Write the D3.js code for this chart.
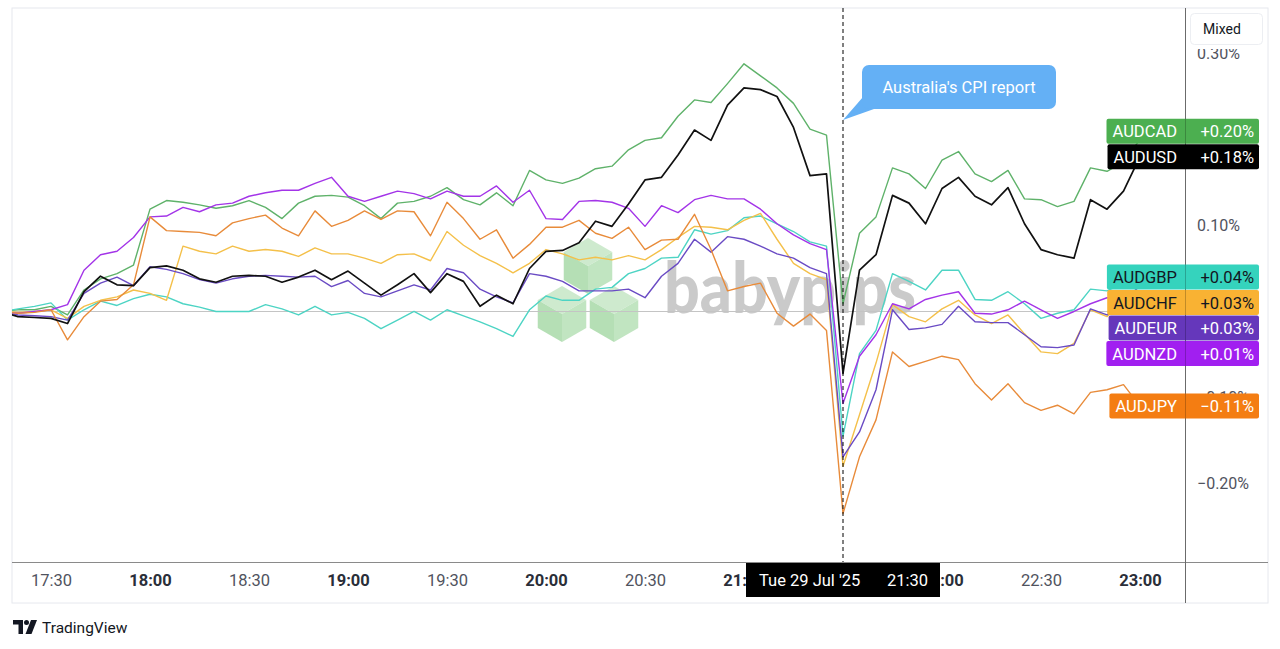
<!DOCTYPE html>
<html><head><meta charset="utf-8">
<script src="https://cdn.jsdelivr.net/npm/d3@7"></script>
<style>
body{margin:0;background:#fff;}
svg{display:block;font-family:Roboto,"Noto Sans",sans-serif;}
</style></head><body>
<svg id="chart" width="1280" height="649"></svg>
<script>
// ---------- DATA ----------
const symbols = ["AUDCAD","AUDUSD","AUDGBP","AUDCHF","AUDEUR","AUDNZD","AUDJPY"];
const startTime = "2025-07-29 17:15";
const stepMinutes = 5;
const eventTime = "2025-07-29 21:30";
const eventNote = "Australia's CPI report";
// tick labels visible (21:30 tick is hidden by the crosshair time label)
const xTickLabels = ["17:30","18:00","18:30","19:00","19:30","20:00","20:30","21:00","22:00","22:30","23:00"];
// 0.20% and 0.00% are hidden by the price labels
const yTickValues = [-0.2,-0.1,0.1,0.3];

const audcad = [0,0.002,0.002,0.006,-0.004,0.025,0.038,0.044,0.054,0.119,
 0.129,0.127,0.124,0.120,0.123,0.129,0.121,0.108,0.126,0.134,
 0.135,0.133,0.123,0.108,0.126,0.128,0.134,0.144,0.130,0.124,
 0.138,0.123,0.164,0.153,0.149,0.155,0.166,0.169,0.188,0.199,
 0.202,0.227,0.246,0.243,0.265,0.288,0.274,0.260,0.242,0.212,
 0.205,0.009,0.091,0.110,0.167,0.160,0.143,0.176,0.186,0.160,
 0.151,0.164,0.131,0.130,0.122,0.128,0.167,0.163,0.174,0.200];
const audusd = [0,-0.006,-0.007,-0.008,-0.014,0.023,0.041,0.031,0.030,0.051,
 0.053,0.048,0.038,0.034,0.041,0.042,0.041,0.034,0.040,0.048,
 0.037,0.047,0.033,0.019,0.031,0.044,0.022,0.044,0.035,0.006,
 0.019,0.009,0.050,0.070,0.071,0.080,0.105,0.099,0.125,0.153,
 0.156,0.182,0.211,0.199,0.240,0.260,0.258,0.250,0.214,0.158,
 0.160,-0.072,0.048,0.066,0.135,0.126,0.102,0.143,0.156,0.134,
 0.124,0.144,0.102,0.072,0.066,0.062,0.130,0.119,0.140,0.180];
const audgbp = [0,0.003,0.006,0.010,-0.010,0.002,0.012,0.007,0.015,0.020,
 0.017,0.009,0.005,0.000,0.000,0.000,0.008,0.003,-0.004,0.006,
 -0.004,-0.001,-0.008,-0.020,-0.010,0.000,-0.010,0.002,-0.005,-0.012,
 -0.020,-0.029,0.002,0.018,0.013,0.013,0.026,0.028,0.044,0.050,
 0.062,0.063,0.095,0.090,0.094,0.109,0.111,0.102,0.093,0.081,
 0.076,-0.145,-0.049,-0.022,0.044,0.035,0.025,0.048,0.048,0.014,
 0.013,0.023,0.009,-0.008,-0.002,0.002,0.026,0.024,0.033,0.040];
const audchf = [0,-0.001,0.000,0.002,-0.008,0.006,0.013,0.017,0.025,0.021,
 0.013,0.076,0.070,0.067,0.076,0.070,0.072,0.070,0.064,0.074,
 0.067,0.067,0.062,0.056,0.066,0.067,0.059,0.093,0.077,0.065,
 0.056,0.045,0.056,0.072,0.067,0.060,0.063,0.060,0.065,0.060,
 0.072,0.086,0.099,0.098,0.095,0.106,0.114,0.084,0.056,0.044,
 0.037,-0.180,-0.120,-0.060,0.008,-0.006,-0.012,0.003,0.013,-0.004,
 -0.014,-0.004,-0.026,-0.047,-0.049,-0.037,0.002,-0.006,0.012,0.030];
const audeur = [0,-0.004,-0.005,-0.006,-0.010,0.021,0.033,0.040,0.030,0.052,
 0.049,0.044,0.037,0.033,0.038,0.041,0.042,0.041,0.040,0.041,
 0.029,0.036,0.021,0.017,0.024,0.031,0.025,0.050,0.045,0.026,
 0.017,0.010,0.044,0.041,0.035,0.024,0.024,0.024,0.026,0.016,
 0.041,0.056,0.084,0.069,0.087,0.084,0.076,0.067,0.062,0.051,
 0.044,-0.169,-0.140,-0.091,0.002,-0.021,-0.019,-0.015,0.006,-0.012,
 -0.013,-0.013,-0.027,-0.041,-0.042,-0.039,0.003,-0.004,0.012,0.030];
const audnzd = [0,-0.002,0.000,0.002,0.008,0.048,0.066,0.070,0.086,0.110,
 0.111,0.121,0.116,0.124,0.126,0.134,0.138,0.141,0.141,0.149,
 0.156,0.134,0.128,0.134,0.140,0.137,0.131,0.140,0.134,0.134,
 0.146,0.127,0.141,0.108,0.107,0.128,0.129,0.127,0.120,0.099,
 0.123,0.115,0.130,0.135,0.131,0.131,0.119,0.102,0.089,0.079,
 0.072,-0.107,-0.052,-0.027,0.009,0.003,0.014,0.019,0.023,-0.002,
 -0.003,0.002,0.012,0.002,-0.008,0.000,0.009,0.016,0.016,0.010];
const audjpy = [0,-0.002,-0.001,0.002,-0.033,-0.006,0.012,0.014,0.031,0.110,
 0.094,0.093,0.092,0.088,0.103,0.108,0.112,0.097,0.088,0.117,
 0.099,0.106,0.117,0.107,0.117,0.116,0.088,0.127,0.108,0.084,
 0.095,0.062,0.078,0.098,0.098,0.106,0.091,0.085,0.098,0.072,
 0.083,0.084,0.113,0.072,0.024,0.029,0.033,-0.002,-0.017,-0.003,
 -0.022,-0.235,-0.169,-0.126,-0.047,-0.064,-0.058,-0.052,-0.056,-0.084,
 -0.103,-0.084,-0.106,-0.115,-0.109,-0.119,-0.094,-0.091,-0.085,-0.110];

const lineColors  = ["#5fb26a","#111111","#4dd4c4","#f4c04a","#6a4bc4","#a334e8","#e88b3a"];
const labelColors = ["#4caf50","#000000","#35d3bd","#f9b233","#6537bb","#a11ff0","#f47d12"];
const labelText   = ["#ffffff","#ffffff","#131722","#131722","#ffffff","#ffffff","#ffffff"];

// ---------- BUILD ----------
const seriesValues = [audcad,audusd,audgbp,audchf,audeur,audnzd,audjpy];
const parse = d3.timeParse("%Y-%m-%d %H:%M");
const t0 = parse(startTime);
const times = audcad.map((_,i)=> d3.timeMinute.offset(t0, i*stepMinutes));
const series = symbols.map((s,k)=>({name:s, values:seriesValues[k], line:lineColors[k], bg:labelColors[k], fg:labelText[k]}));

const svg = d3.select("#chart");
const L = 12, T = 8, R = 1185, B = 562, OUTR = 1268, OUTB = 603;

const x = d3.scaleTime().domain([times[0], times[times.length-1]]).range([1.5, 1140]);
const y = d3.scaleLinear().domain([-0.2913, 0.3529]).range([B, T]);

// frame
svg.append("rect").attr("x",L).attr("y",T).attr("width",OUTR-L).attr("height",OUTB-T)
  .attr("fill","#fff").attr("stroke","#e6e8ee").attr("stroke-width",1);

svg.append("defs").append("clipPath").attr("id","plotclip")
  .append("rect").attr("x",L).attr("y",T).attr("width",R-L).attr("height",B-T);

// watermark
const wm = svg.append("g").attr("opacity",0.8);
function cube(cx,cy,r){
  const c = Math.cos(Math.PI/6)*r;
  const top=[cx,cy-r], ur=[cx+c,cy-r/2], lr=[cx+c,cy+r/2], bot=[cx,cy+r], ll=[cx-c,cy+r/2], ul=[cx-c,cy-r/2], mid=[cx,cy];
  const faces=[[top,ur,mid,ul,"#c3e6c3"],[ul,mid,bot,ll,"#a3d8a3"],[mid,ur,lr,bot,"#b2dfb2"]];
  faces.forEach(f=>wm.append("path").attr("d","M"+f.slice(0,4).map(p=>p.join(",")).join("L")+"Z").attr("fill",f[4]));
}
cube(588,266,28); cube(562,314,28); cube(614,314,28);
wm.append("text").attr("x",664).attr("y",313).attr("textLength",252).attr("lengthAdjust","spacingAndGlyphs")
  .attr("font-size",70).attr("font-weight",900).attr("font-family","Lato, Roboto, sans-serif")
  .attr("fill","#a8a8a8").attr("opacity",0.75).text("babypips");

// baseline
svg.append("line").attr("x1",L).attr("x2",R).attr("y1",y(0)).attr("y2",y(0))
  .attr("stroke","#c4c4c4").attr("stroke-width",1);

// lines
const plot = svg.append("g").attr("clip-path","url(#plotclip)");
const lineGen = d3.line().x((d,i)=>x(times[i])).y(d=>y(d));
const drawOrder = [0,2,3,4,5,6,1];
drawOrder.forEach(k=>{
  const s = series[k];
  plot.append("path").attr("d",lineGen(s.values)).attr("fill","none")
    .attr("stroke",s.line).attr("stroke-width",k===1?1.7:1.4).attr("stroke-linejoin","round");
});

// event dashed line
const ev = parse(eventTime);
svg.append("line").attr("x1",x(ev)).attr("x2",x(ev)).attr("y1",T).attr("y2",B)
  .attr("stroke","#000").attr("stroke-width",1).attr("stroke-dasharray","4,3");

// annotation bubble
const bx = x(ev)+19, by = 65, bw = 194, bh = 44;
const ann = svg.append("g");
ann.append("path").attr("d",`M${bx+1},${by+bh-12} L${x(ev)},${by+bh+11} L${bx+12},${by+bh}Z`).attr("fill","#64b0f5");
ann.append("rect").attr("x",bx).attr("y",by).attr("width",bw).attr("height",bh).attr("rx",7).attr("fill","#64b0f5");
ann.append("text").attr("x",bx+bw/2).attr("y",by+bh/2+6).attr("text-anchor","middle")
  .attr("fill","#fff").attr("font-size",16.5).text(eventNote);

// axes lines
svg.append("line").attr("x1",L).attr("x2",OUTR).attr("y1",B+0.5).attr("y2",B+0.5).attr("stroke","#8a8a8a");
svg.append("line").attr("x1",R+0.5).attr("x2",R+0.5).attr("y1",T).attr("y2",OUTB).attr("stroke","#8a8a8a");

// y axis
const fmtAxis = v => (v<0?"\u2212":"") + Math.abs(v).toFixed(2) + "%";
const yAxis = svg.append("g").attr("transform",`translate(${R},0)`)
  .call(d3.axisRight(y).tickValues(yTickValues).tickFormat(fmtAxis).tickSize(0).tickPadding(12));
yAxis.select(".domain").remove();
yAxis.selectAll("text").attr("font-size",16).attr("fill","#50535e").attr("font-family","Roboto, sans-serif");

// x axis
const xTickTimes = xTickLabels.map(s=>parse("2025-07-29 "+s));
const xAxis = svg.append("g").attr("transform",`translate(0,${B})`)
  .call(d3.axisBottom(x).tickValues(xTickTimes).tickFormat(d3.timeFormat("%H:%M")).tickSize(0).tickPadding(12));
xAxis.select(".domain").remove();
xAxis.selectAll("text").attr("font-size",16.5).attr("font-family","Roboto, sans-serif")
  .attr("fill",d=>d.getMinutes()===0?"#2a2e39":"#50535e")
  .attr("font-weight",d=>d.getMinutes()===0?700:400);

// Mixed button (white pane covering the top of the price scale)
svg.append("rect").attr("x",R+1).attr("y",T+1).attr("width",OUTR-R-2).attr("height",40).attr("fill","#fff");
svg.append("rect").attr("x",1190.5).attr("y",13.5).attr("width",72).attr("height",31).attr("rx",4)
  .attr("fill","#fff").attr("stroke","#eceef2");
svg.append("text").attr("x",1222).attr("y",34).attr("text-anchor","middle").attr("font-size",14)
  .attr("fill","#131722").text("Mixed");

// right labels
const H = 25.5;
const lastVal = s => s.values[s.values.length-1];
const priority = [1,0,2,3,4,5,6];
const placed = [];
priority.forEach(k=>{
  const s = series[k]; const v = lastVal(s);
  let yy = y(v);
  for(let it=0; it<20; it++){
    const hit = placed.find(p=>Math.abs(p.y-yy) < H-0.01);
    if(!hit) break;
    yy = (v > lastVal(hit.s)) ? hit.y - H : hit.y + H;
  }
  placed.push({s, y:yy});
});
const fmtLab = v => (v<0?"\u2212":"+") + Math.abs(v).toFixed(2) + "%";
const lg = svg.append("g").attr("font-family","Roboto, sans-serif").attr("font-size",16.5);
placed.forEach(p=>{
  const g = lg.append("g");
  const r = g.append("rect").attr("y",p.y-12.5).attr("height",25).attr("rx",2).attr("fill",p.s.bg);
  const nt = g.append("text").attr("y",p.y+6).attr("fill",p.s.fg).text(p.s.name);
  const w = nt.node().getComputedTextLength();
  nt.attr("x",R-8-w);
  r.attr("x",R-14-w).attr("width",(1259-(R-14-w)));
  g.append("text").attr("x",1254).attr("y",p.y+6).attr("text-anchor","end").attr("fill",p.s.fg).text(fmtLab(lastVal(p.s)));
});
svg.append("line").attr("x1",R+0.5).attr("x2",R+0.5).attr("y1",T).attr("y2",OUTB).attr("stroke","#000").attr("stroke-opacity",0.22);

// time tooltip
const tt = svg.append("g");
tt.append("rect").attr("x",x(ev)-97).attr("y",B+1).attr("width",194).attr("height",34).attr("fill","#000");
tt.append("text").attr("x",x(ev)-84).attr("y",B+24).attr("fill","#fff").attr("font-size",16.5)
  .text(d3.timeFormat("%a %d %b '%y")(ev));
tt.append("text").attr("x",x(ev)+85).attr("y",B+24).attr("text-anchor","end").attr("fill","#fff").attr("font-size",16.5)
  .text(d3.timeFormat("%H:%M")(ev));

// TradingView logo
const logo = svg.append("g").attr("fill","#131722");
logo.append("path").attr("d","M13,620 H23 V634 H18.5 V624.5 H13 Z");
logo.append("circle").attr("cx",26.5).attr("cy",622.5).attr("r",2.5);
logo.append("path").attr("d","M31,620 H37 L31.5,634 H25.5 Z");
svg.append("text").attr("x",42).attr("y",633).attr("font-size",15.5).attr("fill","#131722")
  .attr("font-family","Roboto, sans-serif").text("TradingView");
</script>
</body></html>
